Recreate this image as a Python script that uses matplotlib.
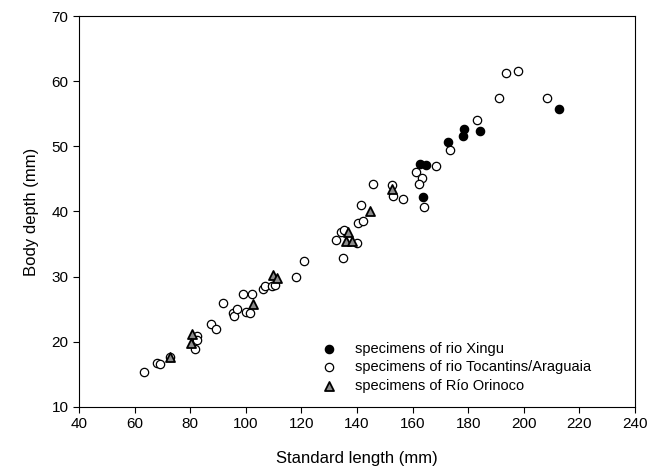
import matplotlib.pyplot as plt

plt.rcParams['font.family'] = ['Liberation Sans', 'DejaVu Sans']

# rio Xingu (filled circles)
xingu_sl = [162.8, 164.9, 163.9, 172.6, 178.4, 178.2, 184.4, 212.8]
xingu_bd = [47.3, 47.1, 42.2, 50.7, 52.6, 51.6, 52.4, 55.7]

# rio Tocantins/Araguaia (open circles)
toc_sl = [63.5, 68.0, 69.1, 72.6, 81.7, 82.3, 82.5, 87.5, 89.3, 91.7,
          95.3, 95.9, 97.0, 99.1, 102.1, 100.0, 101.5, 106.3, 106.9, 109.5,
          110.5, 118.1, 120.9, 132.4, 134.1, 135.5, 134.8, 140.1, 140.5, 142.3,
          141.4, 145.9, 152.5, 153.1, 156.4, 161.4, 163.3, 162.3, 164.1, 168.3,
          173.3, 183.2, 191.1, 193.6, 198.1, 208.4]
toc_bd = [15.4, 16.7, 16.6, 17.7, 18.9, 20.9, 20.3, 22.7, 22.0, 25.9,
          24.4, 24.0, 25.0, 27.4, 27.4, 24.5, 24.4, 28.1, 28.6, 28.5,
          28.7, 30.0, 32.4, 35.6, 36.9, 37.2, 32.8, 35.1, 38.2, 38.5,
          41.0, 44.2, 44.1, 42.3, 41.9, 46.1, 45.2, 44.2, 40.7, 47.0,
          49.4, 54.0, 57.4, 61.3, 61.5, 57.4]

# Rio Orinoco (grey triangles)
ori_sl = [72.7, 80.5, 80.2, 102.7, 109.7, 111.1, 136.9, 135.9, 138.1, 144.8, 152.6]
ori_bd = [17.6, 21.2, 19.8, 25.8, 30.3, 29.8, 36.9, 35.5, 35.4, 40.1, 43.5]

fig, ax = plt.subplots(figsize=(6.58, 4.72), dpi=100)
fig.subplots_adjust(left=0.120, right=0.965, top=0.966, bottom=0.138)

ax.scatter(xingu_sl, xingu_bd, s=36, marker='o', facecolor='black',
           edgecolor='black', linewidth=0.9, zorder=3,
           label='specimens of rio Xingu')
ax.scatter(toc_sl, toc_bd, s=36, marker='o', facecolor='white',
           edgecolor='black', linewidth=0.9, zorder=2,
           label='specimens of rio Tocantins/Araguaia')
ax.scatter(ori_sl, ori_bd, s=42, marker='^', facecolor='#8c8c8c',
           edgecolor='black', linewidth=1.3, zorder=4,
           label='specimens of Río Orinoco')

ax.set_xlim(40, 240)
ax.set_ylim(10, 70)
ax.set_xticks(range(40, 241, 20))
ax.set_yticks(range(10, 71, 10))
ax.tick_params(direction='out', length=4, width=0.8, labelsize=11,
               top=False, right=False)
for sp in ax.spines.values():
    sp.set_linewidth(0.8)

ax.set_xlabel('Standard length (mm)', fontsize=12, labelpad=14)
ax.set_ylabel('Body depth (mm)', fontsize=12, labelpad=9)

ax.legend(loc='upper left', bbox_to_anchor=(0.41, 0.185), frameon=False,
          fontsize=10.5, handletextpad=0.8, labelspacing=0.3, borderpad=0)

fig.savefig('out.png', dpi=100)
